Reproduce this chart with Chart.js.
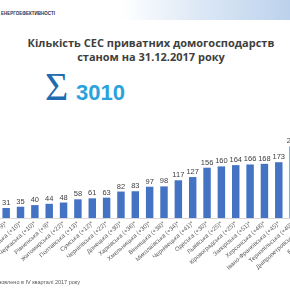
<!DOCTYPE html>
<html>
<head>
<meta charset="utf-8">
<script src="https://cdn.jsdelivr.net/npm/chart.js@4"></script>
<style>
  html, body { margin:0; padding:0; width:290px; height:290px; overflow:hidden; background:#fff; position:relative; }
  #band { position:absolute; left:0; top:0; width:290px; height:20px;
          background:linear-gradient(to right, #ffffff 0%, #ffffff 42%, #dbe7f5 70%, #bcd2ec 100%); }
  #org { position:absolute; right:235px; top:11px; font:bold 4.5px "Liberation Sans", sans-serif; color:#1f2f4f; white-space:nowrap; }
  .title { position:absolute; left:0; width:302px; text-align:center; font:bold 11px "Open Sans", sans-serif; color:#404040; white-space:nowrap; }
  #sigma { position:absolute; left:45px; top:67px; font:40px "Liberation Serif", serif; color:#1f6cb0; line-height:1; }
  #total { position:absolute; left:76px; top:82px; font:bold 22px "Liberation Sans", sans-serif; color:#2aa2dc; line-height:1; }
  #note { position:absolute; right:210px; top:279px; font:5.5px "Liberation Sans", sans-serif; color:#595959; white-space:nowrap; }
  #c { position:absolute; left:-1px; top:0; }
</style>
</head>
<body>
<div id="band"></div>
<div id="org">ДЕРЖАВНЕ АГЕНТСТВО З ЕНЕРГОЕФЕКТИВНОСТІ</div>
<div class="title" style="top:35px">Кількість СЕС приватних домогосподарств</div>
<div class="title" style="top:49px">станом на 31.12.2017 року</div>
<div id="sigma">Σ</div>
<div id="total">3010</div>
<canvas id="c" width="330" height="290"></canvas>
<div id="note">*встановлено в IV кварталі 2017 року</div>
<script>
const regions = [
  "Закарпатська (+9)*", "Волинська (+10)*", "Черкаська (+10)*", "Рівненська (+9)*",
  "Житомирська (+22)*", "Полтавська (+13)*", "Сумська (+12)*", "Чернігівська (+22)*",
  "Донецька (+30)*", "Харківська (+36)*", "Хмельницька (+30)*", "Вінницька (+38)*",
  "Миколаївська (+34)*", "Чернівецька (+41)*", "Одеська (+30)*", "Львівська (+25)*",
  "Кіровоградська (+25)*", "Запорізька (+51)*", "Херсонська (+48)*", "Івано-Франківська (+45)*",
  "Тернопільська (+40)*", "Дніпропетровська (+56)*", "Київська (+120)*"
];
const installations = [31, 35, 40, 44, 48, 58, 61, 63, 82, 83, 97, 98, 117, 127, 156, 160, 164, 166, 168, 173, 222, 307, 510];

const valueLabels = {
  id: 'valueLabels',
  afterDatasetsDraw(chart) {
    const ctx = chart.ctx;
    const meta = chart.getDatasetMeta(0);
    ctx.save();
    ctx.font = '7.5px "Liberation Sans", sans-serif';
    ctx.fillStyle = '#404040';
    ctx.textAlign = 'center';
    ctx.textBaseline = 'alphabetic';
    meta.data.forEach((bar, i) => {
      ctx.fillText(String(installations[i]), bar.x, bar.y - 3);
    });
    ctx.restore();
  }
};

new Chart(document.getElementById('c'), {
  type: 'bar',
  data: {
    labels: regions,
    datasets: [{
      data: installations,
      backgroundColor: '#4473c3',
      barPercentage: 0.52,
      categoryPercentage: 1.0
    }]
  },
  options: {
    responsive: false,
    animation: false,
    devicePixelRatio: 1,
    layout: { padding: { top: 100, left: 0, right: 0, bottom: 0 } },
    plugins: { legend: { display: false }, tooltip: { enabled: false } },
    scales: {
      x: {
        offset: true,
        grid: { display: false, drawTicks: false },
        border: { display: true, color: '#d9d9d9' },
        ticks: {
          autoSkip: false, minRotation: 42, maxRotation: 42, padding: 2,
          color: '#595959', font: { size: 6, family: '"Liberation Sans", sans-serif' }
        },
        afterFit: (s) => { s.paddingLeft = 0; s.paddingRight = 0; s.height = 72; }
      },
      y: { display: false, min: 0, max: 366 }
    }
  },
  plugins: [valueLabels]
});
</script>
</body>
</html>
